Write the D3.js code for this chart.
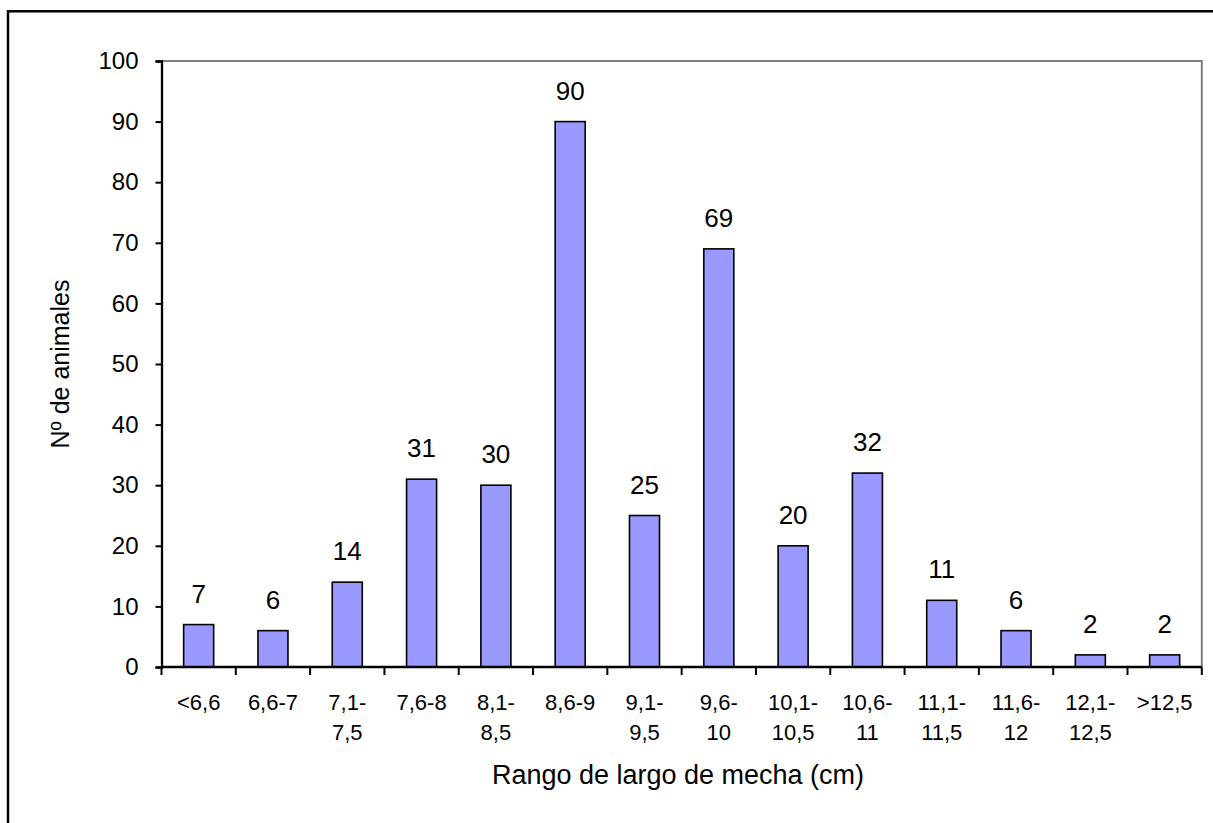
<!DOCTYPE html>
<html>
<head>
<meta charset="utf-8">
<script src="https://cdn.jsdelivr.net/npm/d3@7/dist/d3.min.js"></script>
<style>
  html, body { margin: 0; padding: 0; background: #fff; }
  svg { display: block; font-family: "Liberation Sans", Arial, sans-serif; }
</style>
</head>
<body>
<svg id="chart" width="1213" height="823"></svg>
<script>
const categories = ["<6,6", "6,6-7", "7,1-7,5", "7,6-8", "8,1-8,5", "8,6-9", "9,1-9,5", "9,6-10", "10,1-10,5", "10,6-11", "11,1-11,5", "11,6-12", "12,1-12,5", ">12,5"];
const categoryLines = [["<6,6"], ["6,6-7"], ["7,1-", "7,5"], ["7,6-8"], ["8,1-", "8,5"], ["8,6-9"], ["9,1-", "9,5"], ["9,6-", "10"], ["10,1-", "10,5"], ["10,6-", "11"], ["11,1-", "11,5"], ["11,6-", "12"], ["12,1-", "12,5"], [">12,5"]];
const values = [7, 6, 14, 31, 30, 90, 25, 69, 20, 32, 11, 6, 2, 2];
const yTicks = [0, 10, 20, 30, 40, 50, 60, 70, 80, 90, 100];
const xTitle = "Rango de largo de mecha (cm)";
const yTitle = "Nº de animales";

const svg = d3.select("#chart");
const mLeft = 161.5, mRight = 1201.8, mTop = 61, mBottom = 667;

// outer frame (extends beyond the canvas on right/bottom)
svg.append("rect")
  .attr("x", 8).attr("y", 11.3)
  .attr("width", 1300).attr("height", 1000)
  .attr("fill", "none").attr("stroke", "#000").attr("stroke-width", 2.5);

const x = d3.scaleBand().domain(categories).range([mLeft, mRight])
  .paddingInner(0.596).paddingOuter(0.298);
const y = d3.scaleLinear().domain([0, 100]).range([mBottom, mTop]);

// plot area border (gray top & right)
svg.append("path")
  .attr("d", `M${mLeft},${mTop}H${mRight}V${mBottom}`)
  .attr("fill", "none").attr("stroke", "#808080").attr("stroke-width", 2);

// bars
svg.append("g").selectAll("rect").data(values).join("rect")
  .attr("x", (d, i) => x(categories[i]))
  .attr("y", d => y(d))
  .attr("width", x.bandwidth())
  .attr("height", d => y(0) - y(d))
  .attr("fill", "#9999FF").attr("stroke", "#000").attr("stroke-width", 1.6);

// value labels
svg.append("g").selectAll("text").data(values).join("text")
  .attr("x", (d, i) => x(categories[i]) + x.bandwidth() / 2)
  .attr("y", d => y(d) - 22)
  .attr("text-anchor", "middle")
  .attr("font-size", 26).attr("fill", "#000")
  .text(d => d);

// y axis
const yAxis = d3.axisLeft(y).tickValues(yTicks).tickSize(6).tickPadding(17).tickFormat(d3.format("d"));
const gy = svg.append("g").attr("transform", `translate(${mLeft},0)`).call(yAxis);
gy.select(".domain").attr("stroke", "#000").attr("stroke-width", 2.3);
gy.selectAll(".tick line").attr("stroke", "#000").attr("stroke-width", 2);
gy.selectAll(".tick text").attr("font-size", 24).attr("fill", "#000")
  .attr("font-family", "'Liberation Sans', Arial, sans-serif");

// x axis: ticks at band boundaries
const step = x.step();
const boundaries = d3.range(categories.length + 1).map(i => mLeft + i * step);
const gx = svg.append("g");
gx.append("line").attr("x1", mLeft).attr("x2", mRight).attr("y1", mBottom).attr("y2", mBottom)
  .attr("stroke", "#000").attr("stroke-width", 2.3);
gx.selectAll("line.tk").data(boundaries).join("line").attr("class", "tk")
  .attr("x1", d => d).attr("x2", d => d).attr("y1", mBottom).attr("y2", mBottom + 8)
  .attr("stroke", "#000").attr("stroke-width", 2);
const catText = gx.selectAll("text.cat").data(categoryLines).join("text").attr("class", "cat")
  .attr("text-anchor", "middle").attr("font-size", 22).attr("fill", "#000")
  .attr("transform", (d, i) => `translate(${x(categories[i]) + x.bandwidth() / 2},0)`);
catText.selectAll("tspan").data(d => d).join("tspan")
  .attr("x", 0).attr("y", (d, j) => 710 + j * 29.5)
  .text(d => d);

// axis titles
svg.append("text").attr("x", 678).attr("y", 783.5)
  .attr("text-anchor", "middle").attr("font-size", 27).attr("fill", "#000")
  .text(xTitle);
svg.append("text").attr("transform", `translate(69,${(mTop + mBottom) / 2}) rotate(-90)`)
  .attr("text-anchor", "middle").attr("font-size", 25).attr("fill", "#000")
  .text(yTitle);
</script>
</body>
</html>
